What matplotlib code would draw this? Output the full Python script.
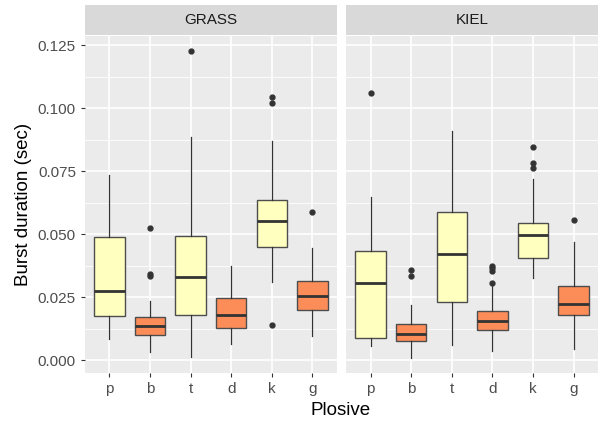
import matplotlib.pyplot as plt
from matplotlib.patches import Rectangle

plt.rcParams['font.family'] = ['Liberation Sans', 'DejaVu Sans']

plosives = ["p", "b", "t", "d", "k", "g"]
panels = ["GRASS", "KIEL"]
fills = ["#FFFFBF", "#FC8D59", "#FFFFBF", "#FC8D59", "#FFFFBF", "#FC8D59"]

# per panel, per plosive: whisker low, q1, median, q3, whisker high
grass_low = [0.0085, 0.0031, 0.0013, 0.0065, 0.0311, 0.0097]
grass_q1 = [0.0175, 0.0099, 0.0179, 0.0128, 0.0448, 0.0197]
grass_med = [0.0275, 0.0136, 0.0328, 0.0179, 0.0552, 0.0254]
grass_q3 = [0.0489, 0.0171, 0.0491, 0.0245, 0.0634, 0.0315]
grass_high = [0.0734, 0.0235, 0.0886, 0.0373, 0.0869, 0.0446]
grass_out = [[], [0.0522, 0.0341, 0.0333], [0.1227], [],
             [0.1045, 0.1019, 0.0140], [0.0586]]

kiel_low = [0.0054, 0.0009, 0.0058, 0.0034, 0.0325, 0.0042]
kiel_q1 = [0.0089, 0.0075, 0.0232, 0.0120, 0.0405, 0.0177]
kiel_med = [0.0307, 0.0104, 0.0422, 0.0153, 0.0495, 0.0223]
kiel_q3 = [0.0434, 0.0143, 0.0589, 0.0194, 0.0544, 0.0295]
kiel_high = [0.0648, 0.0218, 0.0910, 0.0292, 0.0718, 0.0468]
kiel_out = [[0.1060], [0.0356, 0.0333], [], [0.0374, 0.0364, 0.0353, 0.0307],
            [0.0845, 0.0782, 0.0761], [0.0554]]

yticks = [0.000, 0.025, 0.050, 0.075, 0.100, 0.125]


def make_stats(low, q1, med, q3, high, out):
    return [dict(whislo=a, q1=b, med=c, q3=d, whishi=e, fliers=f)
            for a, b, c, d, e, f in zip(low, q1, med, q3, high, out)]


data = {
    "GRASS": make_stats(grass_low, grass_q1, grass_med, grass_q3, grass_high, grass_out),
    "KIEL": make_stats(kiel_low, kiel_q1, kiel_med, kiel_q3, kiel_high, kiel_out),
}

fig = plt.figure(figsize=(6.04, 4.21), dpi=100)
gs = fig.add_gridspec(1, 2, left=0.1407, right=0.990, bottom=0.114, top=0.9145,
                      wspace=0.037)

for i, name in enumerate(panels):
    ax = fig.add_subplot(gs[0, i])
    ax.set_facecolor("#EBEBEB")
    for s in ax.spines.values():
        s.set_visible(False)
    ax.set_axisbelow(True)

    bp = ax.bxp(data[name], positions=range(1, 7), widths=0.75, patch_artist=True,
                showcaps=False,
                boxprops=dict(edgecolor="#4D4D4D", linewidth=1.0),
                whiskerprops=dict(color="#333333", linewidth=0.9),
                medianprops=dict(color="#333333", linewidth=2.0),
                flierprops=dict(marker="o", markerfacecolor="#333333",
                                markeredgecolor="#333333", markersize=3.5))
    for patch, c in zip(bp["boxes"], fills):
        patch.set_facecolor(c)

    ax.set_xlim(0.4, 6.6)
    ax.set_ylim(-0.00516, 0.1286)
    ax.set_xticks(range(1, 7))
    ax.set_xticklabels(plosives)
    ax.set_yticks(yticks)
    ax.set_yticks([0.0125, 0.0375, 0.0625, 0.0875, 0.1125], minor=True)
    ax.grid(which="major", color="white", linewidth=1.2)
    ax.grid(which="minor", axis="y", color="white", linewidth=0.6)
    ax.tick_params(which="major", length=3, color="#333333", labelcolor="#4D4D4D",
                   labelsize=11)
    ax.tick_params(which="minor", length=0)
    if i == 0:
        ax.set_yticklabels(["%.3f" % v for v in yticks])
        ax.set_ylabel("Burst duration (sec)", fontsize=13.5)
    else:
        ax.tick_params(axis="y", which="both", left=False, labelleft=False)

    ax.add_patch(Rectangle((0, 1.003), 1, 0.089, transform=ax.transAxes,
                           facecolor="#D9D9D9", edgecolor="none", clip_on=False))
    ax.text(0.5, 1.003 + 0.089 / 2, name, transform=ax.transAxes, ha="center",
            va="center", fontsize=11, color="#1A1A1A")

fig.text(0.5636, 0.004, "Plosive", ha="center", va="bottom", fontsize=13.5)

plt.savefig("out.png", dpi=100)
